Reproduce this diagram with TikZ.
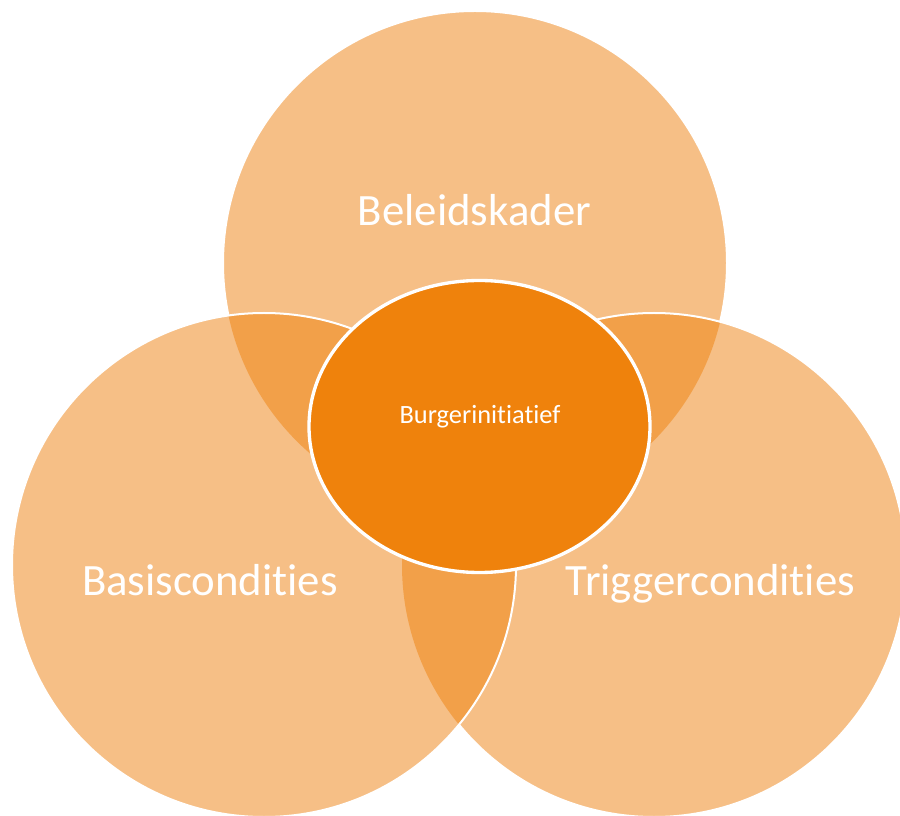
\documentclass[tikz,border=0pt]{standalone}
\usepackage{fontspec}
\setmainfont{Carlito}[Ligatures={NoCommon}]
\usepackage{tikz}

\begin{document}
\begin{tikzpicture}[x=0.75pt,y=0.75pt,yscale=-1,xscale=1,
  ring/.style={fill={rgb, 255:red, 246; green, 191; blue, 134 }},
  lens/.style={fill={rgb, 255:red, 242; green, 160; blue, 73 }},
  rim/.style={draw={rgb, 255:red, 255; green, 255; blue, 255 }, line width=1.5},
  bigtext/.style={anchor=base, inner sep=0.75pt, text=white, font=\fontsize{33.6}{40}\selectfont},
  smalltext/.style={anchor=base, inner sep=0.75pt, text=white, font=\fontsize{19.8}{24}\selectfont}]
\useasboundingbox (0,0) rectangle (900,816);

%Shape: Circle [top]
\fill [ring] (475,263) circle (252) ;
\draw [rim] (475,263) circle (252) ;
%Shape: Circle [right]
\fill [ring] (654,565) circle (252) ;
\begin{scope}
\clip (475,263) circle (252) ;
\fill [lens] (654,565) circle (252) ;
\end{scope}
\draw [rim] (654,565) circle (252) ;
%Shape: Circle [left]
\fill [ring] (264,565) circle (252) ;
\begin{scope}
\clip (264,565) circle (252) ;
\fill [lens] (475,263) circle (252) ;
\fill [lens] (654,565) circle (252) ;
\end{scope}
\draw [rim] (264,565) circle (252) ;
%Shape: Ellipse [centre]
\draw [color={rgb, 255:red, 255; green, 255; blue, 255 }, fill={rgb, 255:red, 239; green, 130; blue, 12 }, line width=2.5] (479.5,426.5) ellipse (170.5 and 146) ;

% Text Node
\draw (474.5,226) node [bigtext] (beleid) {Beleidskader};
% Text Node
\draw (210,595) node [bigtext] (basis) {Basiscondities};
% Text Node
\draw (710.5,595) node [bigtext] (trigger) {Triggercondities};
% Text Node
\draw (480,424) node [smalltext] (burger) {Burgerinitiatief};

\end{tikzpicture}
\end{document}
